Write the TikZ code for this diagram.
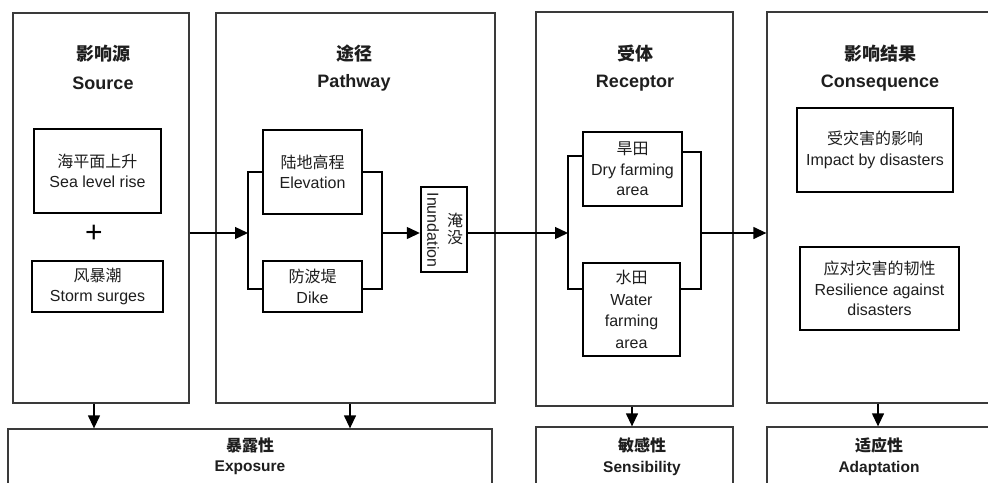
\documentclass[tikz,border=0pt]{standalone}
\usepackage{fontspec}
\setmainfont{Liberation Sans}
\newfontfamily\cjk{Noto Sans CJK SC}
\usetikzlibrary{arrows.meta}
\definecolor{panelc}{HTML}{3A3A3A}
\definecolor{txt}{HTML}{1E1E1E}
\begin{document}
\begin{tikzpicture}[x=1pt,y=-1pt,
  panel/.style={draw=panelc,line width=1.3pt,fill=none,inner sep=0pt},
  ibox/.style={draw=black,line width=2.4pt,inner sep=0pt,align=center,text=txt,
    font=\fontsize{16}{20.5}\selectfont},
  titleC/.style={text=txt,font=\fontsize{18}{20}\selectfont\cjk\bfseries},
  titleE/.style={text=txt,font=\fontsize{18}{20}\selectfont\bfseries},
  botC/.style={text=txt,font=\fontsize{16}{18}\selectfont\cjk\bfseries},
  botE/.style={text=txt,font=\fontsize{15.5}{18}\selectfont\bfseries},
  br/.style={draw=black,line width=2pt},
  arr/.style={draw=black,line width=1.3pt,-{Triangle[length=13pt,width=12pt]}},
]
\useasboundingbox (0,0) rectangle (988,482);
\clip (0,0) rectangle (988,482);
\fill[white] (0,0) rectangle (988,482);

% panels
\node[panel,minimum width=176,minimum height=390] (src) at (101,208) {};
\node[panel,minimum width=279,minimum height=390] (path) at (355.5,208) {};
\node[panel,minimum width=197,minimum height=394] (rec) at (634.5,209) {};
\node[panel,minimum width=243,minimum height=391] (cons) at (888.5,207.5) {};

% bottom boxes
\node[panel,minimum width=484,minimum height=91] (expo) at (250,474.5) {};
\node[panel,minimum width=197,minimum height=93] (sens) at (634.5,473.5) {};
\node[panel,minimum width=243,minimum height=93] (adap) at (888.5,473.5) {};

% titles
\node[titleC] (srcTc) at (103,54) {影响源};
\node[titleE] (srcTe) at (103,83) {Source};
\node[titleC] (pathTc) at (354,54) {途径};
\node[titleE] (pathTe) at (354,83) {Pathway};
\node[titleC] (recTc) at (635,54) {受体};
\node[titleE] (recTe) at (635,83) {Receptor};
\node[titleC] (consTc) at (880,54) {影响结果};
\node[titleE] (consTe) at (880,83) {Consequence};

% bottom texts
\node[botC] (expoTc) at (250,445) {暴露性};
\node[botE] (expoTe) at (250,468) {Exposure};
\node[botC] (sensTc) at (642,445) {敏感性};
\node[botE] (sensTe) at (642,468) {Sensibility};
\node[botC] (adapTc) at (879,445) {适应性};
\node[botE] (adapTe) at (879,468) {Adaptation};

% source contents
\node[ibox,minimum width=127,minimum height=84] (sea) at (97.5,171) {{\cjk 海平面上升}\\Sea level rise};
\node[text=black,font=\fontsize{30}{30}\selectfont] (plus) at (94,234) {+};
\node[ibox,minimum width=131,minimum height=51] (storm) at (97.5,286.5) {{\cjk 风暴潮}\\Storm surges};

% pathway contents
\node[ibox,minimum width=99,minimum height=84] (elev) at (312.5,172) {{\cjk 陆地高程}\\Elevation};
\node[ibox,minimum width=99,minimum height=51] (dike) at (312.5,286.5) {{\cjk 防波堤}\\Dike};
\node[ibox,minimum width=46,minimum height=85] (inund) at (444,229.5) {};
\node[text=txt,font=\fontsize{16}{18}\selectfont,rotate=-90] (inundE) at (433,230) {Inundation};
\node[text=txt,font=\fontsize{16}{17}\selectfont\cjk,align=center] (inundC) at (455,229) {淹\\没};

% receptor contents
\node[ibox,minimum width=99,minimum height=74] (dry) at (632.5,169) {{\cjk 旱田}\\Dry farming\\area};
\node[ibox,minimum width=97,minimum height=93,font=\fontsize{16}{21.5}\selectfont] (water) at (631.5,309.5) {{\cjk 水田}\\Water\\farming\\area};

% consequence contents
\node[ibox,minimum width=156,minimum height=84] (impact) at (875,150) {{\cjk 受灾害的影响}\\Impact by disasters};
\node[ibox,minimum width=159,minimum height=83] (resil) at (879.5,288.5) {{\cjk 应对灾害的韧性}\\Resilience against\\disasters};

% bracket coordinates
\coordinate (pl1) at (248,172);
\coordinate (pl2) at (248,289);
\coordinate (pc) at (248,233);
\coordinate (pr1) at (382,172);
\coordinate (pr2) at (382,289);
\coordinate (prc) at (382,233);
\coordinate (rl1) at (568,156);
\coordinate (rl2) at (568,289);
\coordinate (rc) at (568,233);
\coordinate (rr1) at (701,152);
\coordinate (rr2) at (701,289);
\coordinate (rrc) at (701,233);

% brackets
\draw[br] (elev.west |- pl1) -- (pl1) -- (pl2) -- (dike.west |- pl2);
\draw[br] (elev.east |- pr1) -- (pr1) -- (pr2) -- (dike.east |- pr2);
\draw[br] (dry.west |- rl1) -- (rl1) -- (rl2) -- (water.west |- rl2);
\draw[br] (dry.east |- rr1) -- (rr1) -- (rr2) -- (water.east |- rr2);

% horizontal arrows
\draw[arr] (src.east |- pc) -- (pc);
\draw[arr] (prc) -- (inund.west |- prc);
\draw[arr] (inund.east |- prc) -- (rc);
\draw[arr] (rrc) -- (cons.west |- rrc);

% down arrows
\draw[arr] ([xshift=-7pt]src.south) -- ([xshift=-7pt]src.south |- expo.north);
\draw[arr] ([xshift=-5.5pt]path.south) -- ([xshift=-5.5pt]path.south |- expo.north);
\draw[arr] ([xshift=-2.5pt]rec.south) -- ([xshift=-2.5pt]rec.south |- sens.north);
\draw[arr] ([xshift=-10.5pt]cons.south) -- ([xshift=-10.5pt]cons.south |- adap.north);
\end{tikzpicture}
\end{document}
